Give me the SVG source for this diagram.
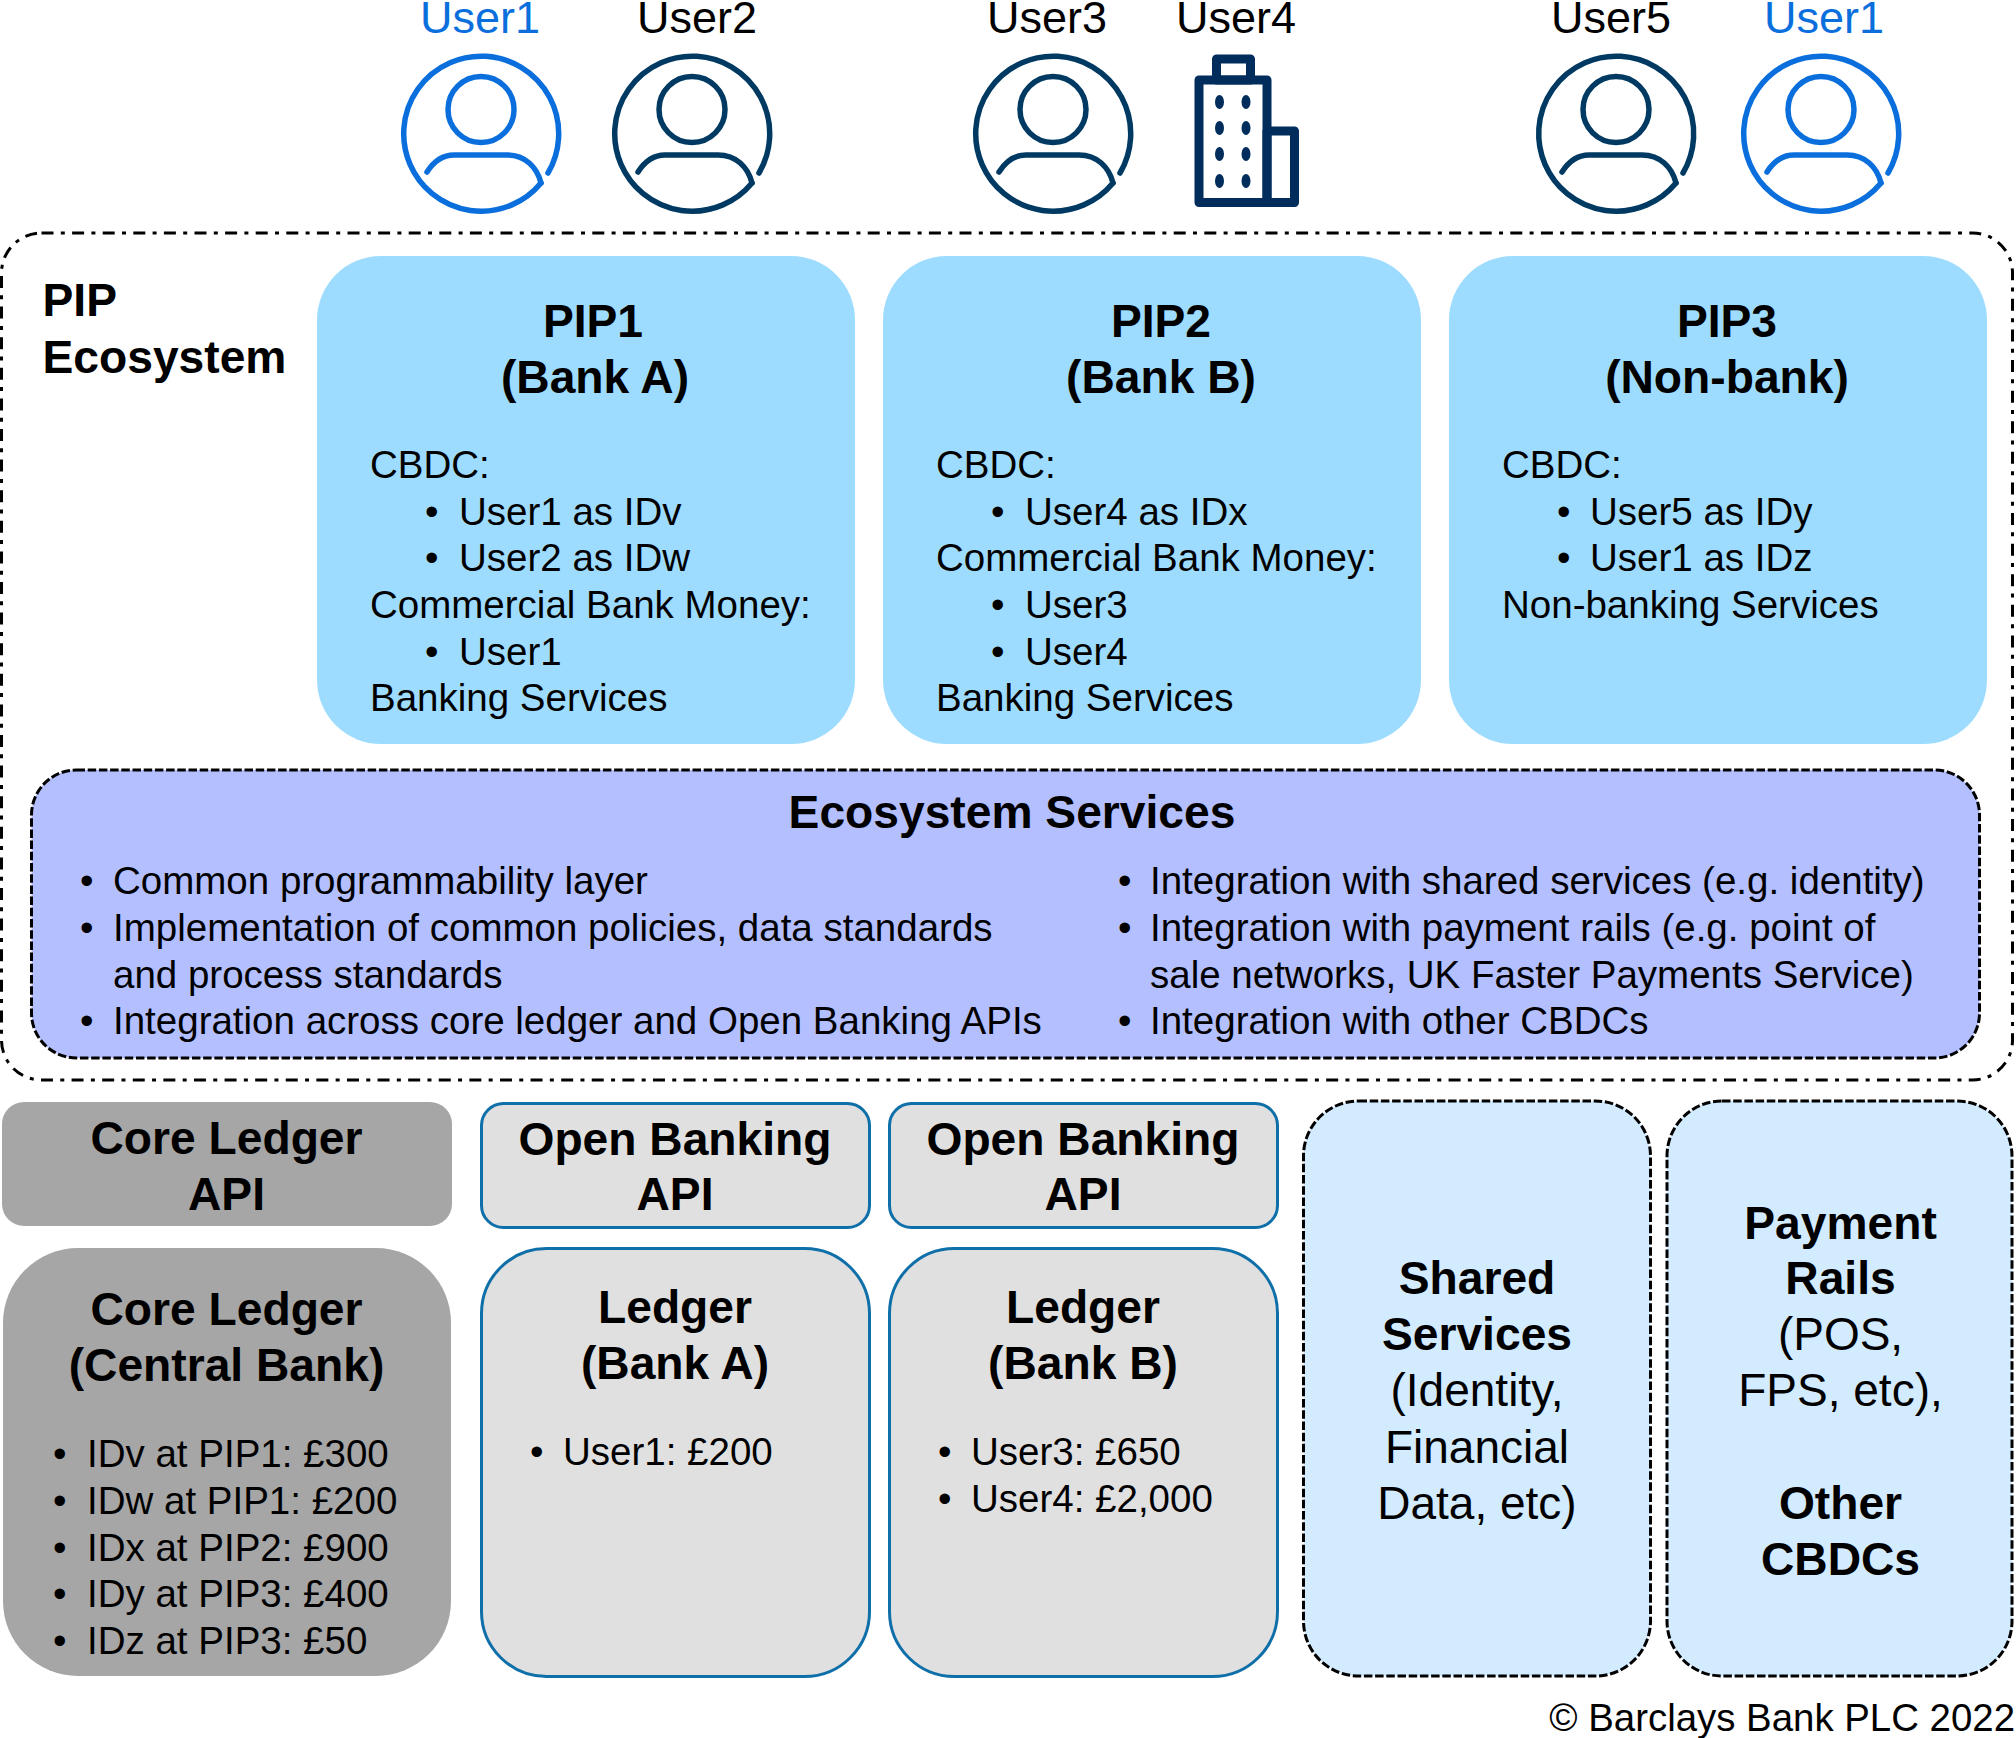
<svg xmlns="http://www.w3.org/2000/svg" width="2016" height="1738" viewBox="0 0 2016 1738">
<style>
text{font-family:"Liberation Sans",Arial,sans-serif;fill:#000}
.b{font-size:38.500px}.h{font-size:46.200px;font-weight:700}.m{text-anchor:middle}.u{font-size:45px}
.n{font-size:46px}
.pip{fill:#9edcff}.eco{fill:#b3bfff;stroke:#000;stroke-width:3;stroke-dasharray:8.500 2.700}
.g{fill:#a6a6a6}.l{fill:#e0e0e0;stroke:#0f6fa8;stroke-width:3}
.s{fill:#d3ebff;stroke:#000;stroke-width:3;stroke-dasharray:8.500 2.700}
.av{fill:none;stroke-width:5.500;stroke-linecap:round;stroke-linejoin:round}
.blue{stroke:#0a6fdc}.dark{stroke:#003a63}
</style>
<defs>
<g id="avatar"><path d="M67 39A77.500 77.500 0 1 0 60 49"/><circle cx="0" cy="-24.500" r="33"/><path d="M-54 38C-47 27-38 21-27 21H26C44 21 56 33 60 49"/></g>
</defs>
<rect id="bg" width="2016" height="1738" fill="#fff"/>
<g id="users">
<g id="user1a"><text class="u m" x="480" y="33" style="fill:#0a6fdc">User1</text><use href="#avatar" x="481" y="134" class="av blue"/></g>
<g id="user2"><text class="u m" x="697" y="33">User2</text><use href="#avatar" x="692" y="134" class="av dark"/></g>
<g id="user3"><text class="u m" x="1047" y="33">User3</text><use href="#avatar" x="1053" y="134" class="av dark"/></g>
<g id="user4"><text class="u m" x="1236" y="33">User4</text>
<g fill="none" stroke="#002d5b" stroke-width="9" stroke-linejoin="round"><rect x="1199" y="80" width="68" height="122.500"/><rect x="1216.500" y="59" width="34" height="21"/><rect x="1267" y="131" width="27.500" height="71.500"/></g>
<g fill="#002d5b"><ellipse cx="1219.500" cy="102" rx="4.500" ry="7"/><ellipse cx="1246" cy="102" rx="4.500" ry="7"/><ellipse cx="1219.500" cy="128" rx="4.500" ry="7"/><ellipse cx="1246" cy="128" rx="4.500" ry="7"/><ellipse cx="1219.500" cy="154" rx="4.500" ry="7"/><ellipse cx="1246" cy="154" rx="4.500" ry="7"/><ellipse cx="1219.500" cy="181" rx="4.500" ry="7"/><ellipse cx="1246" cy="181" rx="4.500" ry="7"/></g></g>
<g id="user5"><text class="u m" x="1611" y="33">User5</text><use href="#avatar" x="1616" y="134" class="av dark"/></g>
<g id="user1b"><text class="u m" x="1824" y="33" style="fill:#0a6fdc">User1</text><use href="#avatar" x="1821" y="134" class="av blue"/></g>
</g>
<g id="connectors"/>
<g id="pip-ecosystem"><rect x="1.500" y="233" width="2011" height="847" rx="40" fill="none" stroke="#000" stroke-width="3" stroke-dasharray="12 7.300 4 7.300"/>
<text class="h" x="42.500" y="316">PIP</text><text class="h" x="42.500" y="373">Ecosystem</text></g>
<g id="pip1"><rect class="pip" x="317" y="256" width="538" height="488" rx="64"/>
<text class="h m" x="593" y="337">PIP1</text><text class="h m" x="595" y="393">(Bank A)</text>
<text class="b" x="370" y="478">CBDC:</text><text class="b" x="425" y="525">•</text><text class="b" x="459" y="525">User1 as IDv</text><text class="b" x="425" y="571">•</text><text class="b" x="459" y="571">User2 as IDw</text><text class="b" x="370" y="618">Commercial Bank Money:</text><text class="b" x="425" y="665">•</text><text class="b" x="459" y="665">User1</text><text class="b" x="370" y="711">Banking Services</text></g>
<g id="pip2"><rect class="pip" x="883" y="256" width="538" height="488" rx="64"/>
<text class="h m" x="1161" y="337">PIP2</text><text class="h m" x="1161" y="393">(Bank B)</text>
<text class="b" x="936" y="478">CBDC:</text><text class="b" x="991" y="525">•</text><text class="b" x="1025" y="525">User4 as IDx</text><text class="b" x="936" y="571">Commercial Bank Money:</text><text class="b" x="991" y="618">•</text><text class="b" x="1025" y="618">User3</text><text class="b" x="991" y="665">•</text><text class="b" x="1025" y="665">User4</text><text class="b" x="936" y="711">Banking Services</text></g>
<g id="pip3"><rect class="pip" x="1449" y="256" width="538" height="488" rx="64"/>
<text class="h m" x="1727" y="337">PIP3</text><text class="h m" x="1727" y="393">(Non-bank)</text>
<text class="b" x="1502" y="478">CBDC:</text><text class="b" x="1557" y="525">•</text><text class="b" x="1590" y="525">User5 as IDy</text><text class="b" x="1557" y="571">•</text><text class="b" x="1590" y="571">User1 as IDz</text><text class="b" x="1502" y="618">Non-banking Services</text></g>
<g id="ecosystem-services"><rect class="eco" x="31.500" y="770" width="1948" height="288" rx="45"/>
<text class="h m" x="1012" y="828">Ecosystem Services</text>
<text class="b" x="80" y="894">•</text><text class="b" x="113" y="894">Common programmability layer</text>
<text class="b" x="80" y="941">•</text><text class="b" x="113" y="941">Implementation of common policies, data standards</text>
<text class="b" x="113" y="988">and process standards</text>
<text class="b" x="80" y="1034">•</text><text class="b" x="113" y="1034">Integration across core ledger and Open Banking APIs</text>
<text class="b" x="1118" y="894">•</text><text class="b" x="1150" y="894">Integration with shared services (e.g. identity)</text>
<text class="b" x="1118" y="941">•</text><text class="b" x="1150" y="941">Integration with payment rails (e.g. point of</text>
<text class="b" x="1150" y="988">sale networks, UK Faster Payments Service)</text>
<text class="b" x="1118" y="1034">•</text><text class="b" x="1150" y="1034">Integration with other CBDCs</text></g>
<g id="core-api"><rect class="g" x="2" y="1102" width="450" height="124" rx="22"/><text class="h m" x="226.500" y="1154">Core Ledger</text><text class="h m" x="226.500" y="1210">API</text></g>
<g id="core-ledger"><rect class="g" x="3" y="1248" width="448" height="428" rx="75"/><text class="h m" x="226.500" y="1325">Core Ledger</text><text class="h m" x="226.500" y="1381">(Central Bank)</text>
<text class="b" x="53" y="1467">•</text><text class="b" x="87" y="1467">IDv at PIP1: £300</text><text class="b" x="53" y="1514">•</text><text class="b" x="87" y="1514">IDw at PIP1: £200</text><text class="b" x="53" y="1561">•</text><text class="b" x="87" y="1561">IDx at PIP2: £900</text><text class="b" x="53" y="1607">•</text><text class="b" x="87" y="1607">IDy at PIP3: £400</text><text class="b" x="53" y="1654">•</text><text class="b" x="87" y="1654">IDz at PIP3: £50</text></g>
<g id="ob-api-a"><rect class="l" x="481.500" y="1103.500" width="388" height="124" rx="22"/><text class="h m" x="675" y="1155">Open Banking</text><text class="h m" x="675" y="1210">API</text></g>
<g id="ob-api-b"><rect class="l" x="889.500" y="1103.500" width="388" height="124" rx="22"/><text class="h m" x="1083" y="1155">Open Banking</text><text class="h m" x="1083" y="1210">API</text></g>
<g id="ledger-a"><rect class="l" x="481.500" y="1248.500" width="388" height="428" rx="65"/><text class="h m" x="675" y="1323">Ledger</text><text class="h m" x="675" y="1379">(Bank A)</text>
<text class="b" x="530" y="1465">•</text><text class="b" x="563" y="1465">User1: £200</text></g>
<g id="ledger-b"><rect class="l" x="889.500" y="1248.500" width="388" height="428" rx="65"/><text class="h m" x="1083" y="1323">Ledger</text><text class="h m" x="1083" y="1379">(Bank B)</text>
<text class="b" x="938" y="1465">•</text><text class="b" x="971" y="1465">User3: £650</text><text class="b" x="938" y="1512">•</text><text class="b" x="971" y="1512">User4: £2,000</text></g>
<g id="shared-services"><rect class="s" x="1303.500" y="1101" width="347" height="575" rx="55"/>
<text class="h m" x="1477" y="1294">Shared</text><text class="h m" x="1477" y="1350">Services</text><text class="n m" x="1477" y="1406">(Identity,</text><text class="n m" x="1477" y="1463">Financial</text><text class="n m" x="1477" y="1519">Data, etc)</text></g>
<g id="payment-rails"><rect class="s" x="1667" y="1101" width="345" height="575" rx="55"/>
<text class="h m" x="1840.500" y="1239">Payment</text><text class="h m" x="1840.500" y="1294">Rails</text><text class="n m" x="1840.500" y="1350">(POS,</text><text class="n m" x="1840.500" y="1406">FPS, etc),</text><text class="h m" x="1840.500" y="1519">Other</text><text class="h m" x="1840.500" y="1575">CBDCs</text></g>
<text id="copyright" x="2015" y="1731" text-anchor="end" font-size="38.400">© Barclays Bank PLC 2022</text>
</svg>
